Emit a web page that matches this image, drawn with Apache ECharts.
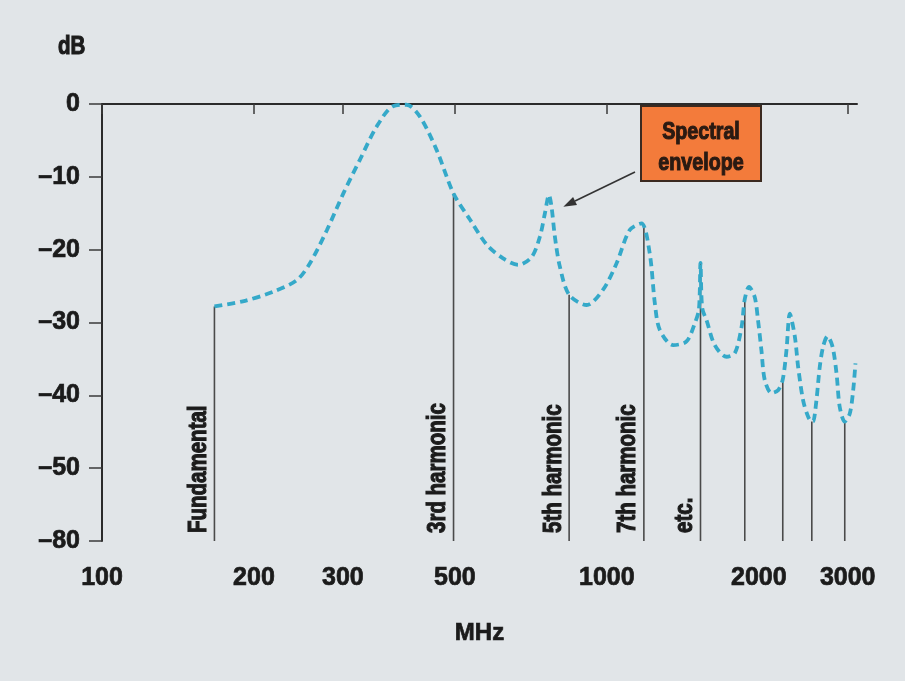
<!DOCTYPE html>
<html>
<head>
<meta charset="utf-8">
<style>
  html, body { margin: 0; padding: 0; background: #e1e5e8; }
  #chart { width: 905px; height: 681px; }
</style>
<script src="https://cdn.jsdelivr.net/npm/echarts@6/dist/echarts.min.js"></script>
</head>
<body>
<div id="chart"></div>
<script>
// Frequency axis tick labels (MHz, logarithmic)
const freqTicks = [100, 200, 300, 500, 1000, 2000, 3000];
// Level axis: the scale is broken below -50, so the bottom tick reads -80
const dbTickValues = [0, -10, -20, -30, -40, -50, -60];
const dbTickLabels = ['0', '\u201310', '\u201320', '\u201330', '\u201340', '\u201350', '\u201380'];
const DB_FLOOR = -60; // axis floor, labelled -80

// Spectral envelope (MHz, dB)
const envFreq = [167, 190, 218, 243, 258, 279, 301, 324, 350, 377, 401, 426, 460, 497, 536, 578,
  623, 668, 710, 737, 754, 768, 777, 789, 807, 842, 912, 983, 1045, 1110, 1171, 1216, 1245,
  1273, 1353, 1438, 1494, 1522, 1533, 1545, 1576, 1636, 1726, 1793, 1849, 1876, 1913, 1963,
  1993, 2024, 2055, 2119, 2184, 2231, 2269, 2304, 2357, 2393, 2448, 2504, 2547, 2562, 2601,
  2641, 2682, 2736, 2799, 2851, 2893, 2960, 3029, 3076, 3108];
const envDb = [-27.8, -27.1, -25.8, -24.2, -21.9, -17.3, -12.2, -7.7, -3.1, -0.3, -0.1, -1.7, -6.3, -12.3, -15.9, -19.3,
  -21.2, -22.1, -21.0, -18.2, -15.0, -12.5, -14.1, -18.2, -22.3, -26.2, -27.6, -25.5, -21.9, -17.3, -16.4, -20.5, -27.4,
  -31.0, -33.1, -32.6, -30.1, -28.2, -21.8, -28.0, -29.7, -33.1, -34.7, -34.2, -30.6, -26.8, -25.1, -26.5,
  -29.7, -33.8, -37.9, -39.7, -39.3, -37.8, -33.8, -28.8, -31.9, -36.1, -40.7, -42.9, -43.6, -43.6, -40.7,
  -36.1, -33.3, -31.9, -33.3, -37.0, -41.6, -43.6, -42.5, -39.3, -35.6];

// Harmonic lines: frequency, level reached, caption
const harmFreq = [167, 497, 842, 1184, 1533, 1876, 2231, 2547, 2960];
const harmDb = [-27.8, -12.3, -26.2, -16.6, -21.8, -26.8, -37.8, -43.6, -43.6];
const harmLabel = ['Fundamental', '3rd harmonic', '5th harmonic', '7th harmonic', 'etc.', '', '', '', ''];

const FONT = "'Liberation Sans', Arial, Helvetica, sans-serif";
const NARROW = 0.82; // horizontal squeeze for the condensed captions
const INK = '#1b1b1b';

const chart = echarts.init(document.getElementById('chart'), null, { renderer: 'canvas' });

const lg = Math.log10;

// Heavy condensed caption style
const caption = (text, size, color, extra) => Object.assign({
  text, fontFamily: FONT, fontWeight: 'bold', fontSize: size,
  fill: color, stroke: color, lineWidth: 1.1
}, extra);

chart.setOption({
  backgroundColor: '#e1e5e8',
  animation: false,
  grid: { left: 102, right: 48, top: 104, bottom: 140, containLabel: false },
  xAxis: {
    type: 'value',
    min: lg(100),
    max: lg(3130),
    name: 'MHz',
    nameLocation: 'middle',
    nameGap: 80,
    nameTextStyle: { fontFamily: FONT, fontWeight: 'bold', fontSize: 24, color: INK,
      textBorderColor: INK, textBorderWidth: 0.7 },
    axisLine: { show: true, lineStyle: { color: '#2b2b2b', width: 2 } },
    axisTick: { show: true, length: 10, customValues: freqTicks.map(lg), lineStyle: { color: '#3a3a3a', width: 1.5 } },
    axisLabel: {
      customValues: freqTicks.map(lg),
      margin: 25,
      fontFamily: FONT, fontWeight: 'bold', fontSize: 25, color: INK,
      textBorderColor: INK, textBorderWidth: 0.7,
      formatter: v => String(Math.round(Math.pow(10, v)))
    },
    splitLine: { show: false }
  },
  yAxis: {
    type: 'value',
    min: DB_FLOOR,
    max: 0,
    interval: 10,
    axisLine: { show: true, lineStyle: { color: '#2b2b2b', width: 2 } },
    axisTick: { show: true, length: 13, lineStyle: { color: '#3a3a3a', width: 1.5 } },
    axisLabel: {
      margin: 22,
      fontFamily: FONT, fontWeight: 'bold', fontSize: 25, color: INK,
      textBorderColor: INK, textBorderWidth: 0.7,
      formatter: v => dbTickLabels[dbTickValues.indexOf(v)] ?? ''
    },
    splitLine: { show: false }
  },
  series: [
    {
      name: 'harmonics',
      type: 'custom',
      z: 2,
      clip: false,
      encode: { x: 0, y: 1 },
      data: harmFreq.map((f, i) => [lg(f), harmDb[i], i]),
      renderItem: (params, api) => {
        const top = api.coord([api.value(0), api.value(1)]);
        const base = api.coord([api.value(0), DB_FLOOR]);
        const label = harmLabel[api.value(2)];
        const children = [{
          type: 'line',
          shape: { x1: base[0], y1: base[1], x2: top[0], y2: top[1] },
          style: { stroke: '#4a4a4a', lineWidth: 1.6 }
        }];
        if (label) {
          children.push({
            type: 'text',
            x: base[0] - 3,
            y: base[1] - 8,
            rotation: Math.PI / 2,
            scaleX: NARROW,
            style: caption(label, 25, INK, { align: 'left', verticalAlign: 'bottom' })
          });
        }
        return { type: 'group', children };
      }
    },
    {
      name: 'Spectral envelope',
      type: 'line',
      z: 3,
      smooth: 0.3,
      showSymbol: false,
      data: envFreq.map((f, i) => [lg(f), envDb[i]]),
      lineStyle: { color: '#35a9c9', width: 3.8, type: [8, 5], cap: 'butt' }
    }
  ]
});

// Axis title and the callout box with its arrow
function drawAnnotations() {
  const tip = chart.convertToPixel({ gridIndex: 0 }, [lg(820), -14.1]);
  const tail = [635, 172];
  const dx = tip[0] - tail[0], dy = tip[1] - tail[1];
  const len = Math.hypot(dx, dy);
  const ux = dx / len, uy = dy / len;
  const nx = -uy, ny = ux;
  const hl = 13, hw = 4.5;
  const bx = tip[0] - ux * hl, by = tip[1] - uy * hl;
  chart.setOption({
    graphic: [
      {
        type: 'text', x: 58, y: 47, scaleX: NARROW,
        style: caption('dB', 25, INK, { align: 'left', verticalAlign: 'middle' })
      },
      {
        type: 'rect', shape: { x: 641, y: 106, width: 120, height: 75 },
        style: { fill: '#f37b3b', stroke: '#3b2a20', lineWidth: 2 }, z: 10
      },
      {
        type: 'text', x: 701, y: 132, z: 11, scaleX: NARROW,
        style: caption('Spectral', 24, '#2a1a12', { align: 'center', verticalAlign: 'middle' })
      },
      {
        type: 'text', x: 701, y: 163, z: 11, scaleX: NARROW,
        style: caption('envelope', 24, '#2a1a12', { align: 'center', verticalAlign: 'middle' })
      },
      {
        type: 'line', z: 10,
        shape: { x1: tail[0], y1: tail[1], x2: bx, y2: by },
        style: { stroke: '#333', lineWidth: 1.6 }
      },
      {
        type: 'polygon', z: 10,
        shape: { points: [[tip[0], tip[1]], [bx + nx * hw, by + ny * hw], [bx - nx * hw, by - ny * hw]] },
        style: { fill: '#333' }
      }
    ]
  });
}
drawAnnotations();
</script>
</body>
</html>
